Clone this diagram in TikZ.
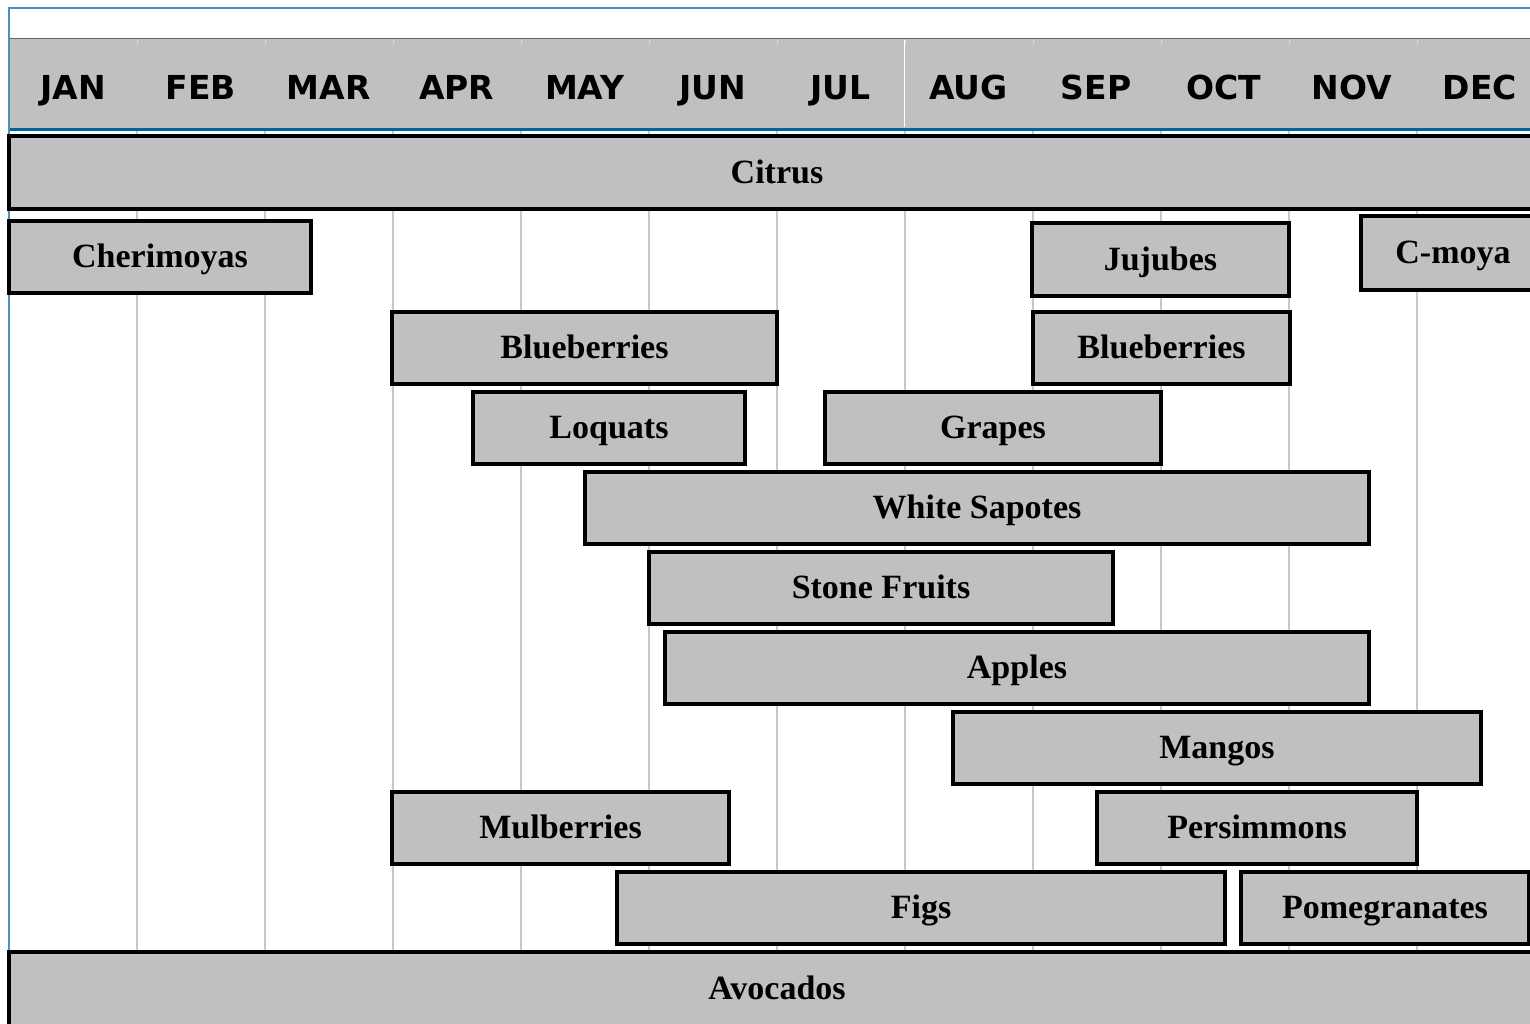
\documentclass[tikz,border=0pt]{standalone}
\usepackage{fontspec}
\setmainfont{Liberation Serif}
\newfontfamily\monthfont{DejaVu Sans}
\definecolor{barfill}{HTML}{C0C0C0}
\definecolor{gridgray}{HTML}{C8C8C8}
\definecolor{frameblue}{HTML}{4F8FB8}
\definecolor{headblue}{HTML}{006699}
\tikzset{
  bar/.style={draw=black, line width=3.5pt, fill=barfill, inner sep=0pt,
    font=\fontsize{34}{38}\selectfont\bfseries, text=black,
    text height=24.5pt, text depth=2.7pt},
  month/.style={font=\monthfont\fontsize{33}{38}\selectfont\bfseries, text=black, inner sep=0pt, anchor=base},
  gridline/.style={draw=gridgray, line width=2pt}
}
\begin{document}
\begin{tikzpicture}[x=1pt,y=-1pt]
\useasboundingbox (0,0) rectangle (1530,1024);
\clip (0,0) rectangle (1530,1024);
\fill[white] (0,0) rectangle (1530,1024);
% outer frame
\draw[frameblue, line width=1.5pt] (9,1030) -- (9,8) -- (1540,8);
% header band
\fill[barfill] (10,39) rectangle (1540,128);
\draw[gray!80!black, line width=1pt] (10,39) -- (1540,39);
\foreach \k in {1,...,11} {
  \draw[gridgray!60!white, line width=1pt] ({9+128*\k},40) -- ({9+128*\k},44);
}
\draw[white, line width=1pt] (904,40) -- (904,127);
\draw[headblue, line width=3pt] (10,129.5) -- (1540,129.5);
% grid lines
\foreach \k in {1,...,11} {
  \coordinate (g\k) at ({9+128*\k},131);
  \coordinate (h\k) at ({9+128*\k},1030);
  \draw[gridline] (g\k) -- (h\k);
}
% month labels
\foreach \m [count=\i] in {JAN,FEB,MAR,APR,MAY,JUN,JUL,AUG,SEP,OCT,NOV,DEC} {
  \node[month] (m\i) at ({73+127.9*(\i-1)},100) {\m};
}
% bars
\node[bar, minimum width=1536pt, minimum height=73pt] (citrus) at (777,172.5) {Citrus};
\node[bar, minimum width=302pt, minimum height=72pt] (cherimoyas) at (160,257) {Cherimoyas};
\node[bar, minimum width=257pt, minimum height=73pt] (jujubes) at (1160.5,259.5) {Jujubes};
\node[bar, minimum width=184pt, minimum height=74pt] (cmoya) at (1453,253) {C-moya};
\node[bar, minimum width=385pt, minimum height=72pt] (blue1) at (584.5,348) {Blueberries};
\node[bar, minimum width=257pt, minimum height=72pt] (blue2) at (1161.5,348) {Blueberries};
\node[bar, minimum width=272pt, minimum height=72pt] (loquats) at (609,428) {Loquats};
\node[bar, minimum width=336pt, minimum height=72pt] (grapes) at (993,428) {Grapes};
\node[bar, minimum width=784pt, minimum height=72pt] (sapotes) at (977,508) {White Sapotes};
\node[bar, minimum width=464pt, minimum height=72pt] (stone) at (881,588) {Stone Fruits};
\node[bar, minimum width=704pt, minimum height=72pt] (apples) at (1017,668) {Apples};
\node[bar, minimum width=528pt, minimum height=72pt] (mangos) at (1217,748) {Mangos};
\node[bar, minimum width=337pt, minimum height=72pt] (mulberries) at (560.5,828) {Mulberries};
\node[bar, minimum width=320pt, minimum height=72pt] (persimmons) at (1257,828) {Persimmons};
\node[bar, minimum width=608pt, minimum height=72pt] (figs) at (921,908) {Figs};
\node[bar, minimum width=288pt, minimum height=72pt] (pomegranates) at (1385,908) {Pomegranates};
\node[bar, minimum width=1536pt, minimum height=74pt] (avocados) at (777,989) {Avocados};
\end{tikzpicture}
\end{document}
